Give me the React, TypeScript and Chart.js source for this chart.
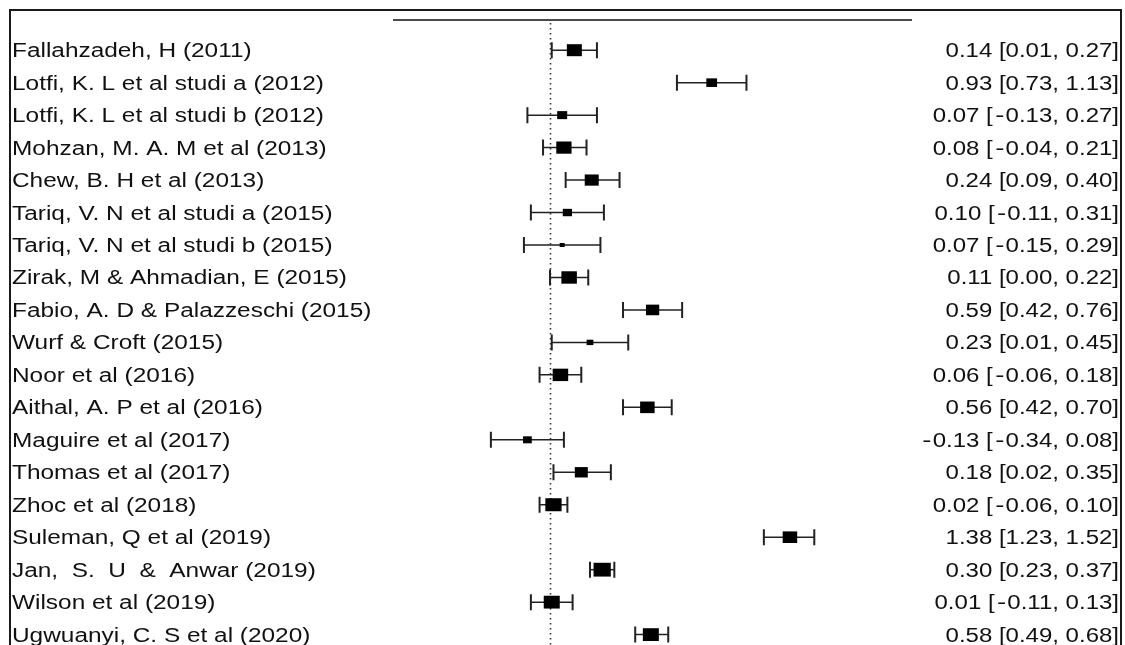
import React, { useEffect, useRef } from "react";
import { Chart, registerables } from "chart.js";

Chart.register(...registerables);

const studies = [
  "Fallahzadeh, H (2011)",
  "Lotfi, K. L et al studi a (2012)",
  "Lotfi, K. L et al studi b (2012)",
  "Mohzan, M. A. M et al (2013)",
  "Chew, B. H et al (2013)",
  "Tariq, V. N et al studi a (2015)",
  "Tariq, V. N et al studi b (2015)",
  "Zirak, M & Ahmadian, E (2015)",
  "Fabio, A. D & Palazzeschi (2015)",
  "Wurf & Croft (2015)",
  "Noor et al (2016)",
  "Aithal, A. P et al (2016)",
  "Maguire et al (2017)",
  "Thomas et al (2017)",
  "Zhoc et al (2018)",
  "Suleman, Q et al (2019)",
  "Jan,  S.  U  &  Anwar (2019)",
  "Wilson et al (2019)",
  "Ugwuanyi, C. S et al (2020)",
];

const estimates = [0.14, 0.93, 0.07, 0.08, 0.24, 0.1, 0.07, 0.11, 0.59, 0.23, 0.06, 0.56, -0.13, 0.18, 0.02, 1.38, 0.3, 0.01, 0.58];
const ciLower = [0.01, 0.73, -0.13, -0.04, 0.09, -0.11, -0.15, 0.0, 0.42, 0.01, -0.06, 0.42, -0.34, 0.02, -0.06, 1.23, 0.23, -0.11, 0.49];
const ciUpper = [0.27, 1.13, 0.27, 0.21, 0.4, 0.31, 0.29, 0.22, 0.76, 0.45, 0.18, 0.7, 0.08, 0.35, 0.1, 1.52, 0.37, 0.13, 0.68];
// approximate study weights (%), read from the square sizes
const weights = [6.0, 4.3, 4.0, 6.1, 5.6, 3.7, 2.0, 6.2, 5.3, 2.7, 6.2, 5.8, 3.5, 5.2, 6.5, 5.8, 6.9, 6.4, 6.4];

const xMin = -0.903;
const xMax = 2.082;
const yTop = -0.93;
const yBottom = 18.32;

const FONT = '20px "Liberation Sans", Arial, sans-serif';
const STRETCH_LEFT = 1.22;
const STRETCH_RIGHT = 1.2;
const HYPHEN_EXTRA = 4;

const fmt = (v: number) => v.toFixed(2);

function drawRightText(ctx: CanvasRenderingContext2D, text: string, xRight: number, y: number) {
  const parts = text.split("-");
  const hy = ctx.measureText("-").width + HYPHEN_EXTRA;
  let total = 0;
  parts.forEach((p, i) => {
    total += ctx.measureText(p).width;
    if (i < parts.length - 1) total += hy;
  });
  ctx.save();
  ctx.translate(xRight, y);
  ctx.scale(STRETCH_RIGHT, 1);
  ctx.textAlign = "left";
  let cx = -total;
  parts.forEach((p, i) => {
    ctx.fillText(p, cx, 0);
    cx += ctx.measureText(p).width;
    if (i < parts.length - 1) {
      ctx.save();
      ctx.translate(cx + HYPHEN_EXTRA / 2, 0);
      ctx.scale(1.15, 1);
      ctx.fillText("-", 0, 0);
      ctx.restore();
      cx += hy;
    }
  });
  ctx.restore();
}

const forestPlugin = {
  id: "forest",
  beforeDraw(chart: any) {
    const ctx = chart.ctx;
    ctx.save();
    ctx.fillStyle = "#ffffff";
    ctx.fillRect(0, 0, chart.width, chart.height);
    ctx.restore();
  },
  afterDatasetsDraw(chart: any) {
    const ctx = chart.ctx as CanvasRenderingContext2D;
    const xs = chart.scales.x;
    const ys = chart.scales.y;
    ctx.save();

    // frame
    ctx.strokeStyle = "#1a1a1a";
    ctx.lineWidth = 2;
    ctx.strokeRect(10, 10, 1111, 700);

    // top rule
    const topY = ys.getPixelForValue(yTop);
    ctx.strokeStyle = "#4a4a4a";
    ctx.lineWidth = 2;
    ctx.beginPath();
    ctx.moveTo(xs.getPixelForValue(xMin), topY);
    ctx.lineTo(xs.getPixelForValue(xMax), topY);
    ctx.stroke();

    // dotted reference line at 0
    const x0 = Math.round(xs.getPixelForValue(0)) + 0.5;
    ctx.strokeStyle = "#333";
    ctx.lineWidth = 1.6;
    ctx.setLineDash([1.6, 3.4]);
    ctx.beginPath();
    ctx.moveTo(x0, topY + 3);
    ctx.lineTo(x0, chart.height);
    ctx.stroke();
    ctx.setLineDash([]);

    // rows
    for (let i = 0; i < studies.length; i++) {
      const y = ys.getPixelForValue(i);
      const xl = xs.getPixelForValue(ciLower[i]);
      const xh = xs.getPixelForValue(ciUpper[i]);
      const xe = xs.getPixelForValue(estimates[i]);
      ctx.strokeStyle = "#222";
      ctx.lineWidth = 1.5;
      ctx.beginPath();
      ctx.moveTo(xl, y);
      ctx.lineTo(xh, y);
      ctx.stroke();
      ctx.lineWidth = 2;
      ctx.beginPath();
      ctx.moveTo(xl, y - 8);
      ctx.lineTo(xl, y + 8);
      ctx.moveTo(xh, y - 8);
      ctx.lineTo(xh, y + 8);
      ctx.stroke();
      const w = weights[i] * 2.5;
      const h = w * 0.8;
      ctx.fillStyle = "#000";
      ctx.fillRect(xe - w / 2, y - h / 2, w, h);

      // texts
      ctx.fillStyle = "#111";
      ctx.font = FONT;
      ctx.textBaseline = "alphabetic";
      ctx.save();
      ctx.translate(12, y + 7);
      ctx.scale(STRETCH_LEFT, 1);
      ctx.textAlign = "left";
      ctx.fillText(studies[i], 0, 0);
      ctx.restore();

      drawRightText(ctx, `${fmt(estimates[i])} [${fmt(ciLower[i])}, ${fmt(ciUpper[i])}]`, 1119, y + 7);
    }
    ctx.restore();
  },
};

export default function App() {
  const ref = useRef<HTMLCanvasElement | null>(null);
  useEffect(() => {
    if (!ref.current) return;
    const chart = new Chart(ref.current, {
      type: "scatter",
      data: {
        datasets: [
          {
            data: estimates.map((e, i) => ({ x: e, y: i })),
            pointRadius: 0,
            pointHoverRadius: 0,
          },
        ],
      },
      options: {
        animation: false,
        responsive: false,
        devicePixelRatio: 1,
        events: [],
        layout: { padding: { left: 393, right: 213, top: 20, bottom: 0 } },
        plugins: { legend: { display: false }, tooltip: { enabled: false } },
        scales: {
          x: { type: "linear", min: xMin, max: xMax, display: false },
          y: { type: "linear", min: yTop, max: yBottom, reverse: true, display: false },
        },
      },
      plugins: [forestPlugin],
    });
    return () => chart.destroy();
  }, []);
  return (
    <canvas
      ref={ref}
      width={1125}
      height={645}
      style={{ position: "fixed", left: 0, top: 0, width: 1125, height: 645, display: "block" }}
    />
  );
}
